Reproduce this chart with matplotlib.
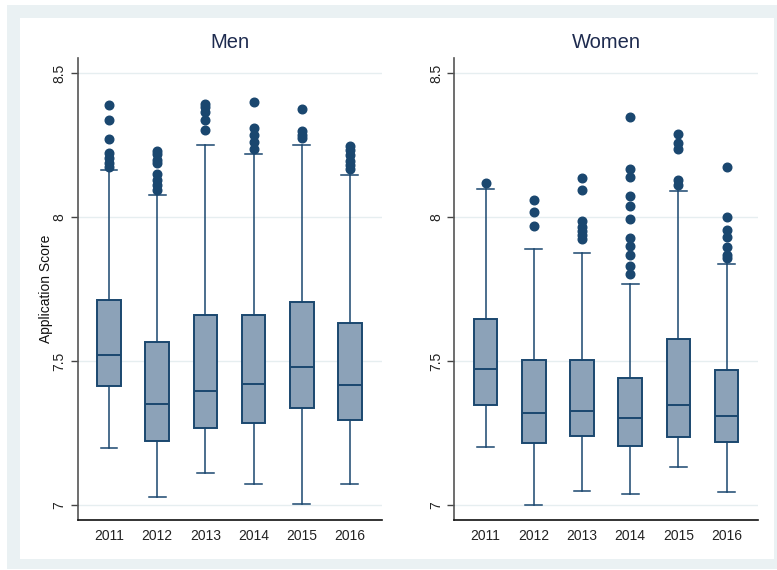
import matplotlib
matplotlib.use("Agg")
import matplotlib.pyplot as plt
from matplotlib.patches import Rectangle

plt.rcParams["font.family"] = ["Liberation Sans", "DejaVu Sans"]

years = ["2011", "2012", "2013", "2014", "2015", "2016"]

# Men: box-plot summary per year
men_lo = [7.199, 7.027, 7.112, 7.072, 7.005, 7.072]
men_q1 = [7.412, 7.223, 7.268, 7.286, 7.338, 7.296]
men_med = [7.521, 7.352, 7.395, 7.421, 7.478, 7.417]
men_q3 = [7.712, 7.567, 7.659, 7.659, 7.705, 7.633]
men_hi = [8.162, 8.075, 8.250, 8.220, 8.249, 8.145]
men_out = [
    [8.389, 8.336, 8.272, 8.221, 8.205, 8.188, 8.174],
    [8.230, 8.218, 8.199, 8.186, 8.150, 8.128, 8.111, 8.094],
    [8.391, 8.381, 8.365, 8.336, 8.303],
    [8.400, 8.310, 8.285, 8.261, 8.236],
    [8.376, 8.297, 8.286, 8.274],
    [8.247, 8.233, 8.215, 8.195, 8.181, 8.166],
]

# Women: box-plot summary per year
women_lo = [7.200, 7.000, 7.050, 7.037, 7.132, 7.044]
women_q1 = [7.346, 7.216, 7.241, 7.205, 7.237, 7.218]
women_med = [7.473, 7.318, 7.327, 7.301, 7.348, 7.308]
women_q3 = [7.647, 7.505, 7.502, 7.440, 7.578, 7.468]
women_hi = [8.097, 7.889, 7.875, 7.766, 8.090, 7.836]
women_out = [
    [8.118],
    [8.059, 8.016, 7.968],
    [8.135, 8.093, 7.986, 7.966, 7.951, 7.938, 7.923],
    [8.347, 8.168, 8.139, 8.072, 8.037, 7.994, 7.927, 7.899, 7.868, 7.830, 7.801],
    [8.289, 8.256, 8.237, 8.128, 8.110],
    [8.174, 7.999, 7.956, 7.930, 7.897, 7.868, 7.857],
]

y_ticks = [7, 7.5, 8, 8.5]
y_ticklabels = ["7", "7.5", "8", "8.5"]

NAVY = "#1A476F"
FILL = "#8CA2B8"
FRAME = "#EAF1F3"
GRID = "#E6EEF0"
TITLE_C = "#1E2B4F"

fig = plt.figure(figsize=(7.77, 5.70), dpi=100)
fig.patch.set_facecolor("white")
W, H = 777.0, 570.0
# light outer frame with white inner region, kept behind the axes
fig.add_artist(Rectangle((7 / W, 1 - 569 / H), (777 - 7) / W, (569 - 5) / H,
                         transform=fig.transFigure, facecolor=FRAME,
                         edgecolor="none", zorder=-10))
fig.add_artist(Rectangle((20 / W, 1 - 559 / H), (774 - 20) / W, (559 - 18) / H,
                         transform=fig.transFigure, facecolor="white",
                         edgecolor="none", zorder=-9))


def stats_for(lo, q1, med, q3, hi, out):
    return [dict(whislo=a, q1=b, med=c, q3=d, whishi=e, fliers=f)
            for a, b, c, d, e, f in zip(lo, q1, med, q3, hi, out)]


panels = [
    ("Men", 77.7, stats_for(men_lo, men_q1, men_med, men_q3, men_hi, men_out)),
    ("Women", 454.3, stats_for(women_lo, women_q1, women_med, women_q3, women_hi, women_out)),
]

bottom_px, top_px = 519.7, 58.0
for title, left_px, stats in panels:
    ax = fig.add_axes([left_px / W, 1 - bottom_px / H, 304 / W, (bottom_px - top_px) / H])
    ax.set_facecolor("none")
    ax.bxp(stats, positions=range(1, 7), widths=0.49, patch_artist=True,
           boxprops=dict(facecolor=FILL, edgecolor=NAVY, linewidth=1.4),
           medianprops=dict(color=NAVY, linewidth=1.4),
           whiskerprops=dict(color=NAVY, linewidth=1.1),
           capprops=dict(color=NAVY, linewidth=1.1),
           capwidths=0.35,
           flierprops=dict(marker="o", markerfacecolor=NAVY, markeredgecolor=NAVY,
                           markersize=6.2, linestyle="none"))
    ax.set_xlim(0.35, 6.66)
    ax.set_ylim(6.949, 8.552)
    ax.set_xticks(range(1, 7))
    ax.set_xticklabels(years, fontsize=10, color="#222222")
    ax.tick_params(axis="x", length=0, pad=7)
    ax.set_yticks(y_ticks)
    ax.set_yticklabels(y_ticklabels, rotation=90, va="center", fontsize=10, color="#222222")
    ax.tick_params(axis="y", length=5, width=1.0, color="#444444", pad=3)
    for t in y_ticks:
        ax.axhline(t, color=GRID, linewidth=1.0, zorder=0)
    for s in ("top", "right"):
        ax.spines[s].set_visible(False)
    ax.spines["left"].set_color("#555555")
    ax.spines["left"].set_linewidth(1.2)
    ax.spines["bottom"].set_color("#111111")
    ax.spines["bottom"].set_linewidth(1.2)
    ax.set_title(title, fontsize=14.5, color=TITLE_C, pad=7)
    if title == "Men":
        ax.set_ylabel("Application Score", fontsize=10, color="#111111", labelpad=0)

fig.savefig("out.png", dpi=100)
